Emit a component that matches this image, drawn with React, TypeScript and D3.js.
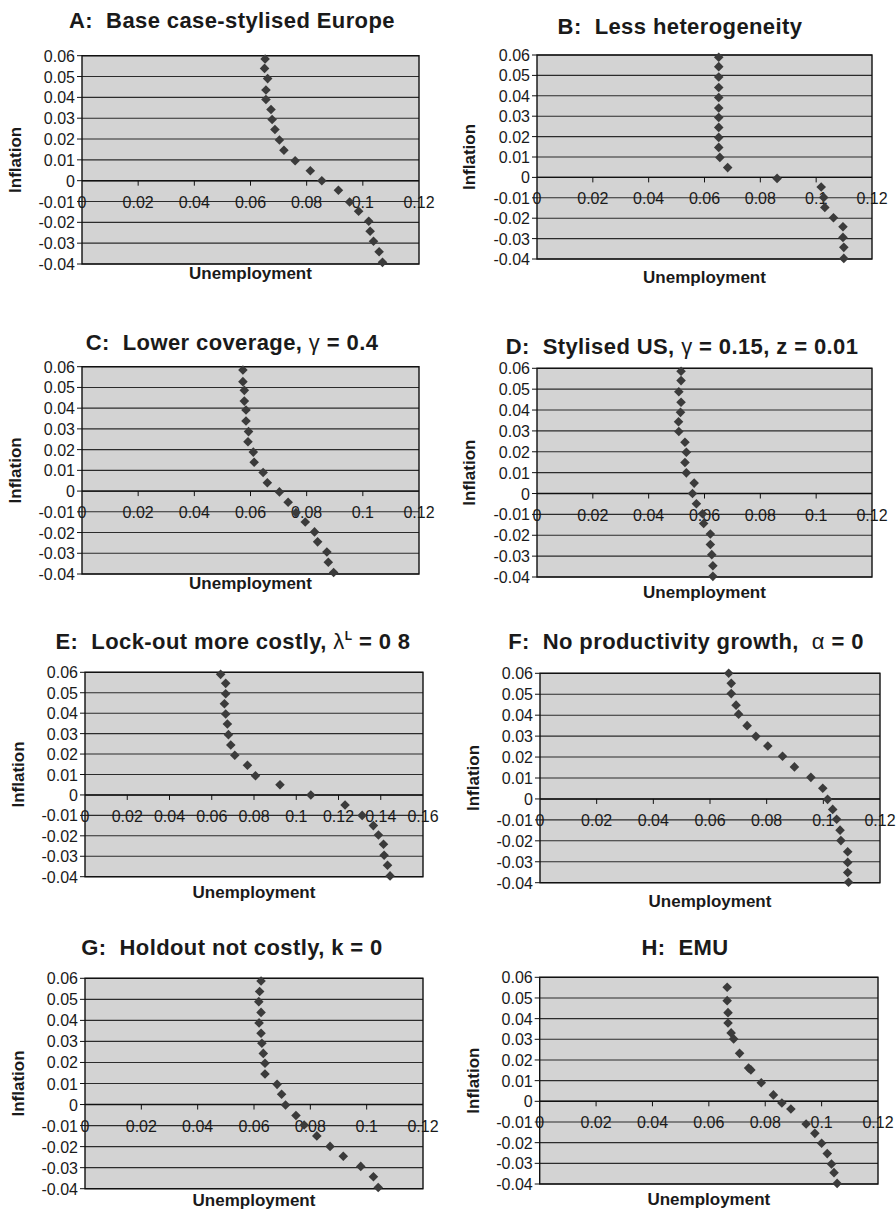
import React, { useRef, useEffect } from 'react';
import * as d3 from 'd3';

// Wage-setting simulations: inflation vs unemployment, eight scenarios (A–H)

const yTicks = [0.06, 0.05, 0.04, 0.03, 0.02, 0.01, 0, -0.01, -0.02, -0.03, -0.04];
const xTicks12 = [0, 0.02, 0.04, 0.06, 0.08, 0.1, 0.12];
const xTicks16 = [0, 0.02, 0.04, 0.06, 0.08, 0.1, 0.12, 0.14, 0.16];

// A: Base case-stylised Europe
const aU = [0.0652, 0.065, 0.0661, 0.0655, 0.0655, 0.0673, 0.0677, 0.0687, 0.0703, 0.0719, 0.0759, 0.0813, 0.0854, 0.0913, 0.0953, 0.0985, 0.1021, 0.1026, 0.1038, 0.1058, 0.107];
const aI = [0.0584, 0.0539, 0.049, 0.0435, 0.039, 0.0342, 0.0294, 0.0246, 0.0195, 0.0146, 0.0096, 0.0048, 0, -0.0046, -0.0102, -0.0147, -0.0195, -0.0243, -0.0291, -0.0341, -0.0392];

// B: Less heterogeneity
const bU = [0.0651, 0.0651, 0.0651, 0.0651, 0.0651, 0.0651, 0.0651, 0.0651, 0.0651, 0.0651, 0.0655, 0.0683, 0.086, 0.1018, 0.1027, 0.1031, 0.1062, 0.1096, 0.1096, 0.1099, 0.1099];
const bI = [0.0589, 0.0543, 0.0492, 0.0441, 0.0392, 0.034, 0.0294, 0.0245, 0.0196, 0.0147, 0.0098, 0.0048, -0.0005, -0.0047, -0.0098, -0.0147, -0.0198, -0.0242, -0.0294, -0.0343, -0.0397];

// C: Lower coverage
const cU = [0.0573, 0.0573, 0.0578, 0.0578, 0.0584, 0.0584, 0.0593, 0.0591, 0.061, 0.0613, 0.0645, 0.066, 0.0703, 0.0734, 0.0762, 0.0795, 0.0828, 0.0839, 0.0872, 0.0877, 0.0896];
const cI = [0.0584, 0.0528, 0.0486, 0.0434, 0.0391, 0.0338, 0.0287, 0.0238, 0.0188, 0.0139, 0.009, 0.004, -0.0004, -0.0054, -0.0104, -0.0149, -0.0197, -0.0245, -0.0294, -0.0343, -0.0393];

// D: Stylised US
const dU = [0.0516, 0.0516, 0.0508, 0.0516, 0.0514, 0.0507, 0.0508, 0.053, 0.0535, 0.053, 0.0535, 0.0563, 0.0557, 0.0571, 0.0593, 0.0597, 0.0621, 0.0621, 0.0626, 0.063, 0.063];
const dI = [0.0586, 0.0541, 0.0488, 0.0437, 0.0389, 0.0344, 0.0297, 0.0246, 0.0198, 0.0149, 0.0099, 0.005, 0, -0.0049, -0.0097, -0.0144, -0.0194, -0.0244, -0.0293, -0.0346, -0.0397];

// E: Lock-out more costly
const eU = [0.0642, 0.0666, 0.0666, 0.066, 0.0666, 0.0674, 0.0679, 0.069, 0.0709, 0.0769, 0.0807, 0.0923, 0.1069, 0.1231, 0.1312, 0.1365, 0.1389, 0.1413, 0.1416, 0.1432, 0.1444];
const eI = [0.059, 0.0546, 0.0495, 0.0446, 0.0396, 0.0347, 0.0295, 0.0244, 0.0194, 0.0145, 0.0094, 0.005, 0, -0.0049, -0.01, -0.015, -0.0196, -0.0241, -0.0295, -0.0344, -0.0396];

// F: No productivity growth
const fU = [0.0666, 0.0675, 0.0675, 0.0692, 0.0701, 0.0731, 0.0762, 0.0804, 0.0856, 0.0898, 0.0956, 0.0998, 0.1015, 0.1033, 0.1047, 0.1059, 0.1062, 0.1086, 0.1086, 0.1086, 0.1089];
const fI = [0.06, 0.0552, 0.0503, 0.0448, 0.0405, 0.035, 0.0299, 0.0253, 0.0204, 0.0153, 0.0103, 0.0051, -0.0002, -0.005, -0.0097, -0.0149, -0.0199, -0.0252, -0.0303, -0.0351, -0.0398];

// G: Holdout not costly
const gU = [0.0625, 0.062, 0.0617, 0.0625, 0.0618, 0.0625, 0.0628, 0.0633, 0.0639, 0.0639, 0.0682, 0.0698, 0.0712, 0.0749, 0.0778, 0.0823, 0.087, 0.0917, 0.0979, 0.1024, 0.1041];
const gI = [0.0587, 0.0537, 0.0489, 0.0438, 0.0388, 0.0339, 0.0291, 0.0243, 0.0196, 0.0145, 0.0096, 0.0049, -0.0002, -0.0052, -0.0097, -0.0149, -0.0199, -0.0246, -0.0294, -0.0343, -0.0394];

// H: EMU
const hU = [0.0665, 0.0665, 0.0668, 0.0668, 0.0679, 0.0688, 0.0709, 0.0741, 0.0749, 0.0786, 0.0829, 0.0859, 0.0891, 0.0945, 0.0976, 0.1, 0.102, 0.1035, 0.1044, 0.1055];
const hI = [0.0552, 0.0487, 0.0429, 0.0379, 0.0331, 0.0302, 0.0232, 0.0161, 0.0152, 0.009, 0.0031, -0.0008, -0.0037, -0.011, -0.0155, -0.0203, -0.0253, -0.0303, -0.0345, -0.0397];

const FONT = 'Liberation Sans, Arial, Helvetica, sans-serif';

const panels = [
  { u: aU, i: aI, xt: xTicks12, title: [{ t: 'A:  Base case-stylised Europe' }],
    box: { l: 82, r: 419, t: 55.7, b: 264 }, tx: 232, ty: 28, xly: 279, ylx: 15 },
  { u: bU, i: bI, xt: xTicks12, title: [{ t: 'B:  Less heterogeneity' }],
    box: { l: 537, r: 872, t: 55, b: 259 }, tx: 680, ty: 34, xly: 283, ylx: 469 },
  { u: cU, i: cI, xt: xTicks12, title: [{ t: 'C:  Lower coverage, ' }, { t: 'γ', g: true }, { t: ' = 0.4' }],
    box: { l: 82, r: 419, t: 366.7, b: 574 }, tx: 232, ty: 350, xly: 589, ylx: 15 },
  { u: dU, i: dI, xt: xTicks12, title: [{ t: 'D:  Stylised US, ' }, { t: 'γ', g: true }, { t: ' = 0.15, z = 0.01' }],
    box: { l: 537, r: 872, t: 368.3, b: 577 }, tx: 682, ty: 354, xly: 598, ylx: 469 },
  { u: eU, i: eI, xt: xTicks16, title: [{ t: 'E:  Lock-out more costly, ' }, { t: 'λ', g: true }, { t: 'L', sup: true }, { t: ' = 0 8', down: true }],
    box: { l: 85, r: 423, t: 672.3, b: 876.7 }, tx: 233, ty: 649, xly: 898, ylx: 18 },
  { u: fU, i: fI, xt: xTicks12, title: [{ t: 'F:  No productivity growth,  ' }, { t: 'α', g: true }, { t: ' = 0' }],
    box: { l: 540, r: 880, t: 673.3, b: 882.7 }, tx: 686, ty: 649, xly: 907, ylx: 473 },
  { u: gU, i: gI, xt: xTicks12, title: [{ t: 'G:  Holdout not costly, k = 0' }],
    box: { l: 85, r: 423, t: 978.3, b: 1188.7 }, tx: 232, ty: 955, xly: 1206, ylx: 18 },
  { u: hU, i: hI, xt: xTicks12, title: [{ t: 'H:  EMU' }],
    box: { l: 539.7, r: 878, t: 977.3, b: 1184 }, tx: 685, ty: 955, xly: 1205, ylx: 473 },
];

const fmt = (v: number) => String(+v.toFixed(2));

function Panel({ cfg }: { cfg: any }) {
  const ref = useRef<SVGGElement>(null);

  useEffect(() => {
    if (!ref.current) return;
    const g = d3.select(ref.current);
    g.selectAll('*').remove();
    const { l, r, t, b } = cfg.box;

    const x = d3.scaleLinear().domain([0, cfg.xt[cfg.xt.length - 1]]).range([l, r]);
    const y = d3.scaleLinear().domain([-0.04, 0.06]).range([b, t]);

    // plot background
    g.append('rect').attr('x', l).attr('y', t).attr('width', r - l).attr('height', b - t)
      .attr('fill', '#d3d3d3');

    // horizontal gridlines
    g.selectAll('line.grid').data(yTicks).join('line')
      .attr('x1', l).attr('x2', r)
      .attr('y1', d => y(d)).attr('y2', d => y(d))
      .attr('stroke', '#2b2b2b').attr('stroke-width', 1.1);

    // y ticks + labels
    g.selectAll('line.yt').data(yTicks).join('line')
      .attr('x1', l - 5).attr('x2', l)
      .attr('y1', d => y(d)).attr('y2', d => y(d))
      .attr('stroke', '#111').attr('stroke-width', 1);
    g.selectAll('text.yl').data(yTicks).join('text')
      .attr('x', l - 7).attr('y', d => y(d) + 6)
      .attr('text-anchor', 'end')
      .attr('font-family', FONT).attr('font-size', 16).attr('fill', '#1a1a1a')
      .text(d => fmt(d));

    // frame
    g.append('rect').attr('x', l).attr('y', t).attr('width', r - l).attr('height', b - t)
      .attr('fill', 'none').attr('stroke', '#111').attr('stroke-width', 1.4);

    // x axis at zero inflation
    const y0 = y(0);
    g.append('line').attr('x1', l).attr('x2', r).attr('y1', y0).attr('y2', y0)
      .attr('stroke', '#111').attr('stroke-width', 1.4);
    g.selectAll('line.xt').data(cfg.xt.slice(1, -1)).join('line')
      .attr('x1', (d: number) => x(d)).attr('x2', (d: number) => x(d))
      .attr('y1', y0).attr('y2', y0 + 5)
      .attr('stroke', '#111').attr('stroke-width', 1);
    g.selectAll('text.xl').data(cfg.xt).join('text')
      .attr('x', (d: number) => x(d)).attr('y', y0 + 27)
      .attr('text-anchor', 'middle')
      .attr('font-family', FONT).attr('font-size', 16).attr('fill', '#1a1a1a')
      .text((d: number) => fmt(d));

    // diamond markers
    const sym = d3.symbol().type(d3.symbolSquare).size(46);
    g.selectAll('path.pt').data(cfg.u.map((u: number, k: number) => [u, cfg.i[k]])).join('path')
      .attr('d', sym)
      .attr('transform', (d: any) => `translate(${x(d[0])},${y(d[1])}) rotate(45)`)
      .attr('fill', '#3b3b3b');

    // axis titles
    g.append('text')
      .attr('x', (l + r) / 2).attr('y', cfg.xly)
      .attr('text-anchor', 'middle')
      .attr('font-family', FONT).attr('font-size', 17).attr('font-weight', 'bold').attr('fill', '#1a1a1a')
      .text('Unemployment');
    g.append('text')
      .attr('transform', `translate(${cfg.ylx + 6},${(t + b) / 2}) rotate(-90)`)
      .attr('text-anchor', 'middle')
      .attr('font-family', FONT).attr('font-size', 17).attr('font-weight', 'bold').attr('fill', '#1a1a1a')
      .text('Inflation');

    // panel title
    const title = g.append('text')
      .attr('x', cfg.tx).attr('y', cfg.ty)
      .attr('text-anchor', 'middle')
      .attr('font-family', FONT).attr('font-size', 22).attr('font-weight', 'bold')
      .attr('letter-spacing', 0.4).attr('fill', '#1a1a1a')
      .style('white-space', 'pre');
    cfg.title.forEach((s: any) => {
      const sp = title.append('tspan').text(s.t);
      if (s.g) sp.attr('font-weight', 'normal').attr('font-size', 22);
      if (s.sup) sp.attr('font-size', 12).attr('dy', -9);
      if (s.down) sp.attr('dy', 9);
    });
  }, [cfg]);

  return <g ref={ref} />;
}

export default function App() {
  return (
    <svg width={896} height={1212} style={{ position: 'absolute', left: 0, top: 0, background: '#fff' }}>
      <rect width={896} height={1212} fill="#fff" />
      {panels.map((p, k) => <Panel key={k} cfg={p} />)}
    </svg>
  );
}
